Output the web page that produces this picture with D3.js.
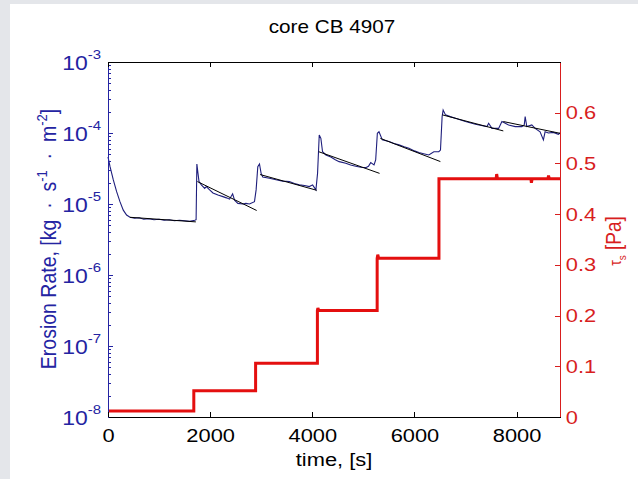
<!DOCTYPE html>
<html>
<head>
<meta charset="utf-8">
<script src="https://cdn.jsdelivr.net/npm/d3@7"></script>
<style>
body { margin: 0; background: #fff; }
svg { display: block; font-family: "Liberation Sans", Arial, sans-serif; }
</style>
</head>
<body>
<svg width="638" height="479"></svg>
<script>
// erosion rate [s], [kg s^-1 m^-2]
var rateTime = [0, 40, 104, 169, 234, 299, 364, 430, 520, 610, 700, 800, 900, 1000, 1100, 1200, 1300, 1400, 1500, 1600, 1700, 1725,
  1740, 1762, 1782, 1828, 1893, 1925, 1990, 2055, 2153, 2250, 2320, 2380, 2440, 2478, 2543, 2640, 2700, 2770, 2868,
  2900, 2933, 2966, 2998, 3030, 3160, 3290, 3420, 3551, 3650, 3746, 3850, 3941, 4006, 4071,
  4103, 4136, 4168, 4201, 4266, 4363, 4450, 4526, 4656, 4750, 4851, 4950, 5046, 5100, 5144, 5209, 5241,
  5274, 5306, 5371, 5502, 5600, 5697, 5800, 5892, 6000, 6087, 6180, 6282, 6380, 6477, 6510,
  6542, 6562, 6608, 6700, 6803, 6998, 7193, 7420, 7453, 7518, 7648, 7713, 7843, 7973, 8103, 8150, 8168, 8200,
  8298, 8363, 8460, 8525, 8558, 8623, 8721, 8818, 8850];
var rateValue = [4.6e-5, 3.35e-5, 2.18e-5, 1.49e-5, 1.08e-5, 8.2e-6, 7.0e-6, 6.5e-6, 6.3e-6, 6.4e-6, 6.1e-6, 6.2e-6, 6.0e-6, 6.1e-6, 5.9e-6, 6.0e-6, 5.8e-6, 5.9e-6, 5.8e-6, 5.7e-6, 5.9e-6, 6.0e-6,
  3.66e-5, 2.7e-5, 2.07e-5, 1.86e-5, 1.66e-5, 1.76e-5, 1.58e-5, 1.43e-5, 1.34e-5, 1.27e-5, 1.22e-5, 1.17e-5, 1.39e-5, 1.13e-5, 1.02e-5, 1.0e-5, 1.02e-5, 1.0e-5, 1.08e-5,
  1.58e-5, 3.35e-5, 3.66e-5, 2.7e-5, 2.4e-5, 2.3e-5, 2.19e-5, 2.1e-5, 2.07e-5, 1.95e-5, 1.86e-5, 1.82e-5, 1.76e-5, 1.86e-5, 1.58e-5,
  2.7e-5, 9.4e-5, 8.4e-5, 5.45e-5, 4.9e-5, 4.6e-5, 4.2e-5, 3.95e-5, 3.74e-5, 3.55e-5, 3.4e-5, 3.3e-5, 3.25e-5, 3.4e-5, 3.83e-5, 3.55e-5, 4.17e-5,
  9.9e-5, 1.04e-4, 8.0e-5, 7.6e-5, 7.1e-5, 6.8e-5, 6.4e-5, 6.1e-5, 5.6e-5, 5.3e-5, 5.1e-5, 4.9e-5, 5.45e-5, 5.45e-5, 5.75e-5,
  1.7e-4, 2.1e-4, 1.8e-4, 1.7e-4, 1.61e-4, 1.45e-4, 1.33e-4, 1.23e-4, 1.37e-4, 1.16e-4, 1.16e-4, 1.45e-4, 1.3e-4, 1.23e-4, 1.23e-4, 1.3e-4, 1.7e-4, 1.23e-4,
  1.3e-4, 1.16e-4, 1.04e-4, 8.0e-5, 1.04e-4, 1.0e-4, 1.02e-4, 9.6e-5, 1.0e-4];

// fitted decay lines, one per stress step
var fitT0 = [430, 1750, 2978, 4126, 5333, 6548, 7740];
var fitE0 = [6.5e-6, 2.07e-5, 2.6e-5, 5.45e-5, 8.4e-5, 1.8e-4, 1.45e-4];
var fitT1 = [1720, 2911, 4087, 5317, 6508, 7740, 8850];
var fitE1 = [5.6e-6, 8.1e-6, 1.56e-5, 2.7e-5, 3.96e-5, 1.07e-4, 9.9e-5];

// bed shear stress [Pa]
var stressTime = [0, 1680, 1680, 2890, 2890, 4100, 4100, 4110, 4125, 5270, 5270, 5282, 5300,
  6480, 6480, 7600, 7610, 7625, 8280, 8290, 8305, 8615, 8625, 8640, 8850];
var stressValue = [0.012, 0.012, 0.052, 0.052, 0.106, 0.106, 0.21, 0.215, 0.21, 0.21, 0.313, 0.32, 0.313,
  0.313, 0.47, 0.47, 0.479, 0.47, 0.47, 0.462, 0.47, 0.47, 0.476, 0.47, 0.47];

var xTicks = [0, 2000, 4000, 6000, 8000];
var rateTicks = [1e-8, 1e-7, 1e-6, 1e-5, 1e-4, 1e-3];
var stressTicks = [0, 0.1, 0.2, 0.3, 0.4, 0.5, 0.6];

var blue = "#2424a2", navy = "#1e1e7c", red = "#d81e1e", redLine = "#e40f0f";
var sx = 1.15; // picture is stretched sideways a little

var svg = d3.select("svg"),
    margin = {top: 62, right: 78, bottom: 62, left: 108},
    width = +svg.attr("width") - margin.left - margin.right,
    height = +svg.attr("height") - margin.top - margin.bottom;

svg.append("rect").attr("width", 638).attr("height", 479).attr("fill", "#e4e6ea");
svg.append("rect").attr("x", 10).attr("y", 4).attr("width", 628).attr("height", 475).attr("fill", "#fff");

var x = d3.scaleLinear().domain([0, 8850]).range([0, width]);
var yL = d3.scaleLog().domain([1e-8, 1e-3]).range([height, 0]);
var yR = d3.scaleLinear().domain([0, 0.7]).range([height, 0]);

var g = svg.append("g").attr("transform", "translate(" + margin.left + "," + margin.top + ")");

// erosion rate
var rateLine = d3.line()
    .x(function(i) { return x(rateTime[i]); })
    .y(function(i) { return yL(rateValue[i]); });
g.append("path")
    .attr("d", rateLine(d3.range(rateTime.length)))
    .attr("fill", "none")
    .attr("stroke", navy)
    .attr("stroke-width", 1.1);

// fits
g.selectAll(".fit")
    .data(d3.range(fitT0.length))
    .enter().append("line")
    .attr("class", "fit")
    .attr("x1", function(i) { return x(fitT0[i]); })
    .attr("y1", function(i) { return yL(fitE0[i]); })
    .attr("x2", function(i) { return x(fitT1[i]); })
    .attr("y2", function(i) { return yL(fitE1[i]); })
    .attr("stroke", "#000")
    .attr("stroke-width", 1);

// stress
var stressLine = d3.line()
    .x(function(i) { return x(stressTime[i]); })
    .y(function(i) { return yR(stressValue[i]); });
g.append("path")
    .attr("d", stressLine(d3.range(stressTime.length)))
    .attr("fill", "none")
    .attr("stroke", redLine)
    .attr("stroke-width", 3);

// axes
var minor = [];
rateTicks.slice(0, -1).forEach(function(d) {
  for (var k = 2; k < 10; k++) minor.push(d * k);
});

g.append("g")
    .call(d3.axisLeft(yL).tickValues(minor).tickSize(-3).tickFormat(""))
    .call(function(a) { a.select(".domain").remove(); a.selectAll("line").attr("stroke", blue); });

var leftAxis = g.append("g")
    .call(d3.axisLeft(yL).tickValues(rateTicks).tickSizeInner(-5).tickSizeOuter(0).tickPadding(6)
      .tickFormat(function() { return "10"; }));
leftAxis.select(".domain").attr("stroke", blue);
leftAxis.selectAll("line").attr("stroke", blue);
leftAxis.selectAll("text")
    .attr("fill", blue)
    .attr("font-size", 20)
    .attr("dy", "0.36em")
    .attr("transform", "scale(" + sx + ",1)")
    .append("tspan")
    .attr("dy", "-0.85em")
    .attr("font-size", 13)
    .text(function(d) { return Math.round(Math.log10(d)); });

var rightAxis = g.append("g")
    .attr("transform", "translate(" + width + ",0)")
    .call(d3.axisRight(yR).tickValues(stressTicks).tickSizeInner(-5).tickSizeOuter(0).tickPadding(5)
      .tickFormat(d3.format("")));
rightAxis.select(".domain").attr("stroke", red);
rightAxis.selectAll("line").attr("stroke", red);
rightAxis.selectAll("text")
    .attr("fill", red)
    .attr("font-size", 19)
    .attr("transform", "scale(" + sx + ",1)");

var bottomAxis = g.append("g")
    .attr("transform", "translate(0," + height + ")")
    .call(d3.axisBottom(x).tickValues(xTicks).tickSizeInner(-5).tickSizeOuter(0).tickFormat(d3.format("d")));
bottomAxis.select(".domain").attr("stroke", "#000");
bottomAxis.selectAll("text")
    .attr("fill", "#000")
    .attr("font-size", 19)
    .attr("y", 25).attr("dy", 0)
    .attr("transform", "scale(" + sx + ",1)");

var topAxis = g.append("g")
    .call(d3.axisTop(x).tickValues(xTicks).tickSizeInner(-5).tickSizeOuter(0).tickFormat(""));
topAxis.select(".domain").attr("stroke", "#000");

svg.selectAll(".domain, .tick line").attr("shape-rendering", "crispEdges");

// titles
svg.append("text")
    .attr("transform", "translate(332,33) scale(" + sx + ",1)")
    .attr("text-anchor", "middle")
    .attr("font-size", 18)
    .text("core CB 4907");

svg.append("text")
    .attr("transform", "translate(334,466) scale(" + sx + ",1)")
    .attr("text-anchor", "middle")
    .attr("font-size", 19)
    .text("time, [s]");

var nb = "\u00a0";
var yl = svg.append("text")
    .attr("transform", "translate(56,239) scale(" + sx + ",1) rotate(-90)")
    .attr("text-anchor", "middle")
    .attr("font-size", 19.5)
    .attr("fill", blue);
yl.append("tspan").text("Erosion Rate, [kg" + nb + nb + "\u00b7" + nb + nb + "s");
yl.append("tspan").attr("dy", -8).attr("font-size", 13).text("-1");
yl.append("tspan").attr("dy", 8).text(nb + nb + "\u00b7" + nb + nb + "m");
yl.append("tspan").attr("dy", -8).attr("font-size", 13).text("-2");
yl.append("tspan").attr("dy", 8).text("]");

var yr = svg.append("text")
    .attr("transform", "translate(621,241) scale(" + sx + ",1) rotate(-90)")
    .attr("text-anchor", "middle")
    .attr("font-size", 19)
    .attr("fill", red);
yr.append("tspan").attr("font-size", 14).text("\u03c4");
yr.append("tspan").attr("dy", 4).attr("font-size", 10).text("s");
yr.append("tspan").attr("dy", -4).text(" [Pa]");
</script>
</body>
</html>
